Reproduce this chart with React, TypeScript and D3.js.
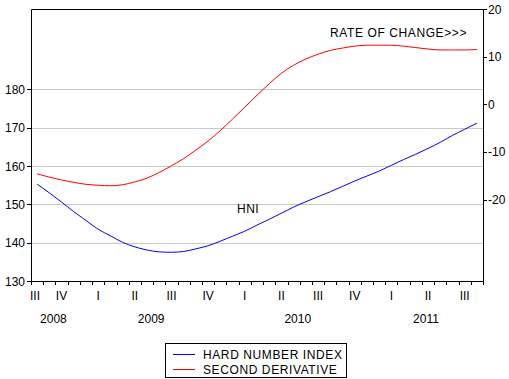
import React from "react";
import * as d3 from "d3";

// Monthly observations, Sep 2008 .. Sep 2011
const startYear = 2008;
const startMonth = 8; // 0-based: September
const hni = [
  155.3, 153.0, 150.6, 148.1, 145.8, 143.5, 141.8, 140.1, 138.9, 138.1, 137.6, 137.5,
  137.7, 138.4, 139.2, 140.4, 141.7, 143.0, 144.6, 146.1, 147.7, 149.3, 150.7, 152.0,
  153.3, 154.7, 156.1, 157.4, 158.7, 160.2, 161.7, 163.1, 164.6, 166.2, 168.0, 169.6,
  171.2,
];
const secondDerivative = [
  -14.6, -15.3, -15.9, -16.4, -16.8, -17.0, -17.1, -16.9, -16.3, -15.5, -14.3, -12.9,
  -11.4, -9.6, -7.7, -5.5, -3.1, -0.6, 1.9, 4.3, 6.5, 8.2, 9.5, 10.5,
  11.3, 11.8, 12.2, 12.4, 12.4, 12.4, 12.2, 11.9, 11.6, 11.4, 11.4, 11.4,
  11.5,
];
const leftTicks = [130, 140, 150, 160, 170, 180];
const rightTicks = [-20, -10, 0, 10, 20];
const leftDomain = [130, 201];
const rightDomain = [-37.1, 20];
const quarterNames = ["I", "II", "III", "IV"];
const seriesNames = ["HARD NUMBER INDEX", "SECOND DERIVATIVE"];
const seriesColors = ["#0000ff", "#ff0000"];

const months = hni.map((_, i) => {
  const m = startMonth + i;
  return { idx: i, year: startYear + Math.floor(m / 12), month: m % 12 };
});

const W = 509;
const H = 379;
const L = 31;
const R = 483;
const T = 9;
const B = 281;
const FONT = "'Liberation Sans', Arial, sans-serif";

export default function App() {
  const x = d3.scaleBand<number>().domain(months.map((d) => d.idx)).range([L, R]).padding(0);
  const step = x.step();
  const cx = (i: number) => (x(i) as number) + step / 2;
  const yL = d3.scaleLinear().domain(leftDomain).range([B, T]);
  const yR = d3.scaleLinear().domain(rightDomain).range([B, T]);

  const lineL = d3.line<number>().x((_, i) => cx(i)).y((v) => yL(v)).curve(d3.curveMonotoneX);
  const lineR = d3.line<number>().x((_, i) => cx(i)).y((v) => yR(v)).curve(d3.curveMonotoneX);

  const quarters = d3.groups(months, (d) => `${d.year}-${Math.floor(d.month / 3)}`).map(([k, arr]) => {
    const q = Math.floor(arr[0].month / 3);
    const x0 = x(arr[0].idx) as number;
    const x1 = (x(arr[arr.length - 1].idx) as number) + step;
    return { key: k, q, x0, x1, n: arr.length, first: arr[0].idx === 0 };
  });
  const years = d3.groups(months, (d) => d.year).map(([yr, arr]) => {
    const x0 = x(arr[0].idx) as number;
    const x1 = (x(arr[arr.length - 1].idx) as number) + step;
    return { yr, cx: (x0 + x1) / 2 };
  });

  const tickXs = months.map((d) => x(d.idx) as number).concat([R]);

  return (
    <svg width={W} height={H} style={{ position: "absolute", left: 0, top: 0 }} fontFamily={FONT} fontSize={12}>
      <rect x={0} y={0} width={W} height={H} fill="#fff" />
      {leftTicks.filter((t) => t !== leftDomain[0]).map((t) => (
        <line key={"g" + t} x1={L} x2={R} y1={Math.round(yL(t)) + 0.5} y2={Math.round(yL(t)) + 0.5} stroke="#c8c8c8" strokeWidth={1} />
      ))}
      <path d={`M${L + 0.5},${B + 0.5} V${T + 0.5} H${R + 0.5} V${B + 0.5} H${L + 0.5}`} fill="none" stroke="#000" strokeWidth={1} />
      {leftTicks.map((t) => (
        <g key={"l" + t}>
          <line x1={L - 4} x2={L} y1={Math.round(yL(t)) + 0.5} y2={Math.round(yL(t)) + 0.5} stroke="#000" />
          <text x={25} y={yL(t) + 4.5} textAnchor="end" fill="#000">{t}</text>
        </g>
      ))}
      {rightTicks.map((t) => (
        <g key={"r" + t}>
          <line x1={R} x2={R + 4} y1={Math.round(yR(t)) + 0.5} y2={Math.round(yR(t)) + 0.5} stroke="#000" />
          <text x={488} y={yR(t) + 4.5} textAnchor="start" fill="#000">{t}</text>
        </g>
      ))}
      {tickXs.map((tx, i) => (
        <line key={"xt" + i} x1={Math.round(tx) + 0.5} x2={Math.round(tx) + 0.5} y1={B} y2={B + 4} stroke="#000" />
      ))}
      {quarters.map((q) => (
        q.first && q.n < 3 ? (
          <text key={q.key} x={q.x0 - 1} y={300} textAnchor="start" fill="#000">{quarterNames[q.q]}</text>
        ) : (
          <text key={q.key} x={(q.x0 + q.x1) / 2} y={300} textAnchor="middle" fill="#000">{quarterNames[q.q]}</text>
        )
      ))}
      {years.map((y) => (
        <text key={y.yr} x={y.cx - 2} y={323} textAnchor="middle" fill="#000">{y.yr}</text>
      ))}
      <path d={lineL(hni) || ""} fill="none" stroke={seriesColors[0]} strokeWidth={1} />
      <path d={lineR(secondDerivative) || ""} fill="none" stroke={seriesColors[1]} strokeWidth={1} />
      <text x={330} y={37} fill="#000" letterSpacing={0.6}>RATE OF CHANGE&gt;&gt;&gt;</text>
      <text x={248} y={213} textAnchor="middle" fill="#000" letterSpacing={0.4}>HNI</text>
      <rect x={165.5} y={343.5} width={181} height={34} fill="#fff" stroke="#000" />
      {seriesNames.map((n, i) => (
        <g key={n}>
          <line x1={173} x2={195} y1={354.5 + i * 15} y2={354.5 + i * 15} stroke={seriesColors[i]} />
          <text x={203} y={358.5 + i * 15} fill="#000" letterSpacing={0.6}>{n}</text>
        </g>
      ))}
    </svg>
  );
}
